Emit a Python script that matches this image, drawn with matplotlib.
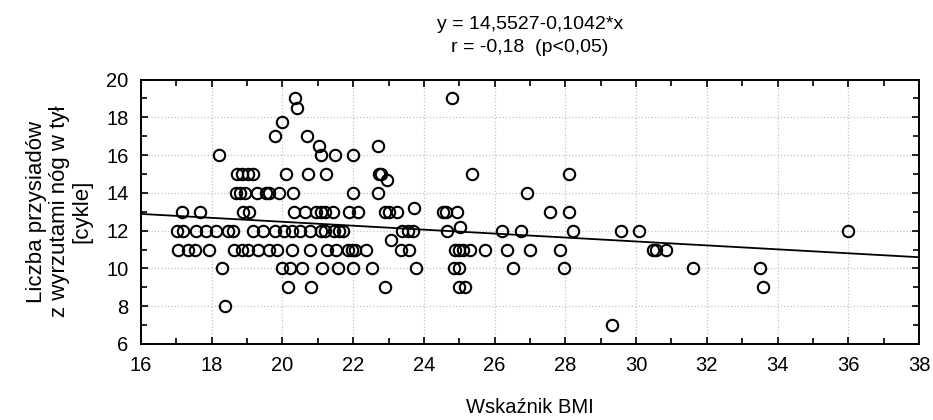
import numpy as np
import matplotlib
matplotlib.use('Agg')
import matplotlib.pyplot as plt
from matplotlib.ticker import MultipleLocator

plt.rcParams['font.family'] = ['Liberation Sans', 'DejaVu Sans']

# BMI and squat count
bmi = [20.36, 24.79,
       20.40,
       19.98,
       19.79, 20.70,
       21.02, 22.70,
       18.21, 21.09, 21.49, 22.00,
       18.71, 18.85, 19.04, 19.18, 20.09, 20.72, 21.23, 22.72, 22.80, 25.35, 28.09,
       22.97,
       18.68, 18.80, 18.94, 19.27, 19.54, 19.63, 19.91, 20.29, 22.00, 22.69, 26.92,
       23.73,
       17.15, 17.67, 18.88, 19.06, 20.33, 20.64, 20.96, 21.08, 21.20, 21.44, 21.89,
       22.15, 22.90, 23.02, 23.23, 24.53, 24.63, 24.95, 27.57, 28.10,
       25.02,
       17.01, 17.18, 17.56, 17.84, 18.12, 18.47, 18.61, 19.18, 19.46, 19.79, 20.05,
       20.26, 20.50, 20.78, 21.08, 21.19, 21.46, 21.60, 21.70, 23.37, 23.54, 23.70,
       24.66, 26.22, 26.74, 28.23, 29.57, 30.08, 36.00,
       23.07,
       17.06, 17.33, 17.52, 17.93, 18.64, 18.85, 19.04, 19.32, 19.62, 19.85, 20.26,
       20.77, 21.25, 21.51, 21.86, 21.96, 22.06, 22.36, 23.35, 23.58, 24.88, 24.98,
       25.10, 25.29, 25.73, 26.36, 27.00, 27.85, 30.47, 30.57, 30.84,
       18.29, 19.98, 20.20, 20.55, 21.11, 21.56, 21.99, 22.53, 23.78, 24.86, 25.00,
       26.51, 27.96, 31.60, 33.51,
       20.15, 20.80, 22.90, 25.00, 25.17, 33.59,
       18.38,
       29.31]
squats = ([19]*2 + [18.5] + [17.75] + [17]*2 + [16.5]*2 + [16]*4 + [15]*11 + [14.7] +
          [14]*11 + [13.2] + [13]*20 + [12.2] + [12]*29 + [11.5] + [11]*31 +
          [10]*15 + [9]*6 + [8] + [7])

# regression from the title
a, b = 14.5527, -0.1042

fig = plt.figure(figsize=(9.33, 4.2), dpi=100)
ax = fig.add_axes([0.1511, 0.181, 0.8339, 0.6297])

xs = np.array([16, 38])
ax.plot(xs, a + b*xs, color='black', lw=1.3, zorder=2)
ax.plot(bmi, squats, 'o', ms=8.2, mfc='none', mec='black', mew=1.5, zorder=3)

ax.set_xlim(16, 38)
ax.set_ylim(6, 20)
ax.xaxis.set_major_locator(MultipleLocator(2))
ax.xaxis.set_minor_locator(MultipleLocator(1))
ax.yaxis.set_major_locator(MultipleLocator(2))
ax.yaxis.set_minor_locator(MultipleLocator(1))
ax.tick_params(which='both', direction='in', top=True, right=True, width=1.2,
               labelsize=14.5)
ax.tick_params(axis='x', which='major', pad=9)
ax.tick_params(axis='y', which='major', pad=9)
ax.tick_params(which='major', length=5)
ax.tick_params(which='minor', length=4)
ax.grid(True, which='major', ls=':', color='#c4c4c4', lw=0.9)
for s in ax.spines.values():
    s.set_linewidth(1.4)

ax.set_title('y = 14,5527-0,1042*x\nr = -0,18  (p<0,05)', fontsize=14, pad=20,
             linespacing=1.45)
ax.set_xlabel('Wskaźnik BMI', fontsize=14.5, labelpad=16)
ax.set_ylabel('Liczba przysiadów\nz wyrzutami nóg w tył\n[cykle]', fontsize=16,
              labelpad=10, linespacing=1.1)

fig.savefig('out.png', dpi=100)
